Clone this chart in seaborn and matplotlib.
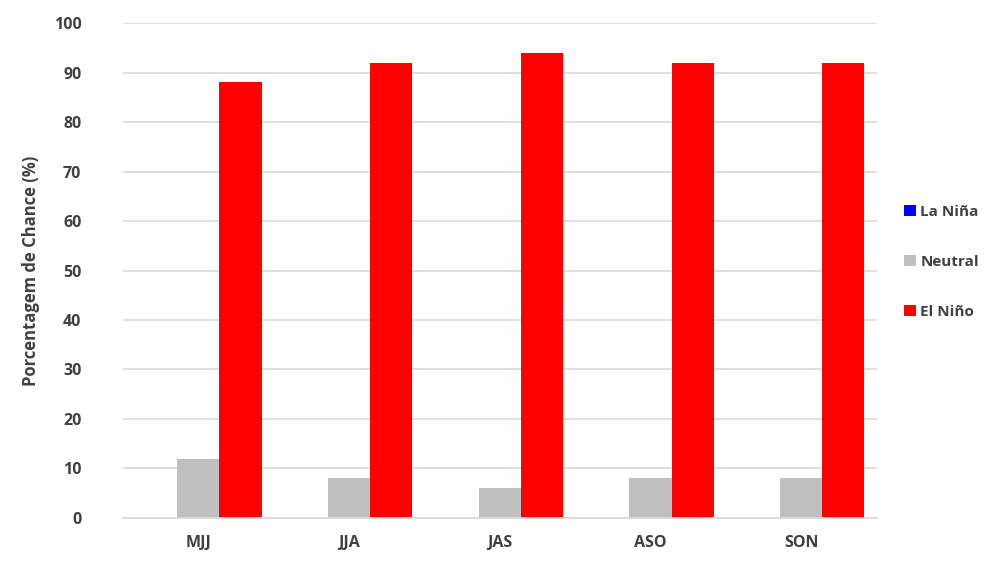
import matplotlib
matplotlib.use("Agg")
import matplotlib.pyplot as plt
import seaborn as sns
import pandas as pd
from matplotlib.patches import Patch

categories = ["MJJ", "JJA", "JAS", "ASO", "SON"]
la_nina = [0, 0, 0, 0, 0]
neutral = [12, 8, 6, 8, 8]
el_nino = [88, 92, 94, 92, 92]
series_names = ["La Niña", "Neutral", "El Niño"]
colors = ["#0000FF", "#BFBFBF", "#FF0000"]

rows = []
for name, vals in zip(series_names, [la_nina, neutral, el_nino]):
    for c, v in zip(categories, vals):
        rows.append({"cat": c, "series": name, "value": v})
df = pd.DataFrame(rows)

sns.set_theme(style="white")
plt.rcParams["font.family"] = ["Open Sans", "DejaVu Sans"]

fig = plt.figure(figsize=(10.02, 5.63), dpi=100)
ax = fig.add_axes([0.1228, 0.08, 0.752, 0.879])

sns.barplot(data=df, x="cat", y="value", hue="series", order=categories,
            hue_order=series_names, palette=colors, width=0.84, gap=0,
            saturation=1, ax=ax, legend=False, errorbar=None,
            linewidth=0, edgecolor="none")

ax.set_ylim(0, 100)
ax.set_yticks(range(0, 101, 10))
ax.set_xlim(-0.5, 4.5)
ax.yaxis.grid(True, color="#D9D9D9", linewidth=1.2)
ax.set_axisbelow(True)
for s in ["top", "right", "left"]:
    ax.spines[s].set_visible(False)
ax.spines["bottom"].set_color("#D9D9D9")
ax.spines["bottom"].set_linewidth(1.2)
ax.tick_params(axis="both", length=0, labelsize=11.5, labelcolor="#404040")
ax.tick_params(axis="y", pad=30)
ax.tick_params(axis="x", pad=12)
for lbl in ax.get_xticklabels() + ax.get_yticklabels():
    lbl.set_fontweight("bold")
ax.set_xlabel("")
ax.set_ylabel("Porcentagem de Chance (%)", fontsize=12, fontweight="bold",
              color="#404040", labelpad=10)

handles = [Patch(facecolor=c, edgecolor="none") for c in colors]
leg = fig.legend(handles, series_names, loc="center left",
                 bbox_to_anchor=(0.888, 0.535), frameon=False,
                 handlelength=0.8, handleheight=0.8, handletextpad=0.3,
                 labelspacing=2.35, prop={"size": 11, "weight": "bold"})
for t in leg.get_texts():
    t.set_color("#404040")

fig.savefig("out.png", dpi=100, facecolor="white")
